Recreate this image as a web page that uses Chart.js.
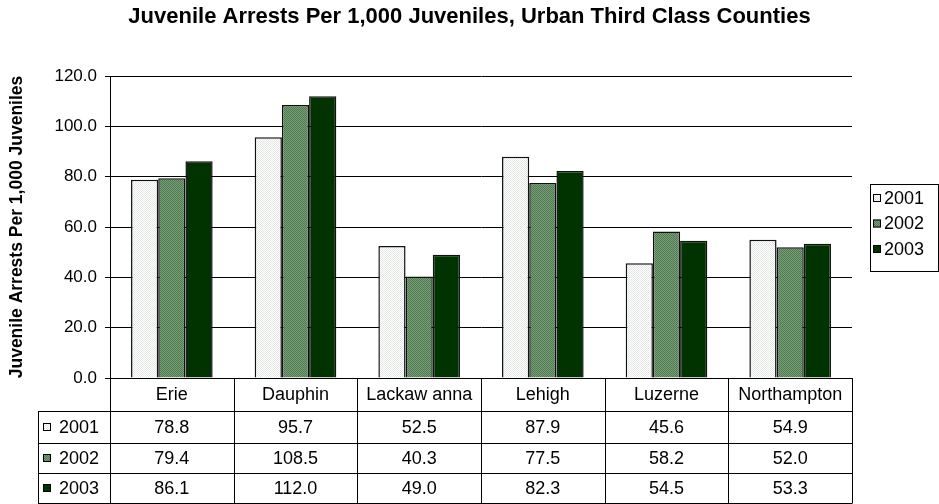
<!DOCTYPE html>
<html>
<head>
<meta charset="utf-8">
<script src="https://cdn.jsdelivr.net/npm/chart.js@4.4.1/dist/chart.umd.min.js"></script>
<style>
  html, body { margin: 0; padding: 0; background: #fff; }
  #wrap { width: 939px; height: 504px; }
</style>
</head>
<body>
<div id="wrap"><canvas id="arrestChart" width="939" height="504"></canvas></div>
<script>
// chart data
const counties = ['Erie', 'Dauphin', 'Lackaw anna', 'Lehigh', 'Luzerne', 'Northampton'];
const years = ['2001', '2002', '2003'];
const rate2001 = [78.8, 95.7, 52.5, 87.9, 45.6, 54.9];
const rate2002 = [79.4, 108.5, 40.3, 77.5, 58.2, 52.0];
const rate2003 = [86.1, 112.0, 49.0, 82.3, 54.5, 53.3];
const yTicks = [0, 20, 40, 60, 80, 100, 120];

const FONT = 'Arial, "Liberation Sans", sans-serif';

// little canvas patterns to mimic the excel fills
function makePattern(bg, dot) {
    const c = document.createElement('canvas');
    c.width = 2; c.height = 2;
    const g = c.getContext('2d');
    g.fillStyle = bg;
    g.fillRect(0, 0, 2, 2);
    g.fillStyle = dot;
    g.fillRect(0, 0, 1, 1);
    g.fillRect(1, 1, 1, 1);
    return g.createPattern(c, 'repeat');
}
const ctx = document.getElementById('arrestChart').getContext('2d');
const fills = [
    makePattern('#ffffff', '#e4e8e4'),
    makePattern('#7a9e7a', '#4f7a4f'),
    '#003300'
];

// draws the data table under the plot and the legend box on the right
const tablePlugin = {
    id: 'dataTable',
    afterDraw(chart) {
        const c = chart.ctx;
        const area = chart.chartArea;
        const x = chart.scales.x;
        const rows = [rate2001, rate2002, rate2003];
        const left = 38;
        const rowY = [area.bottom, 411, 443, 473, 503];
        const colW = (area.right - area.left) / counties.length;

        c.save();
        c.strokeStyle = '#000';
        c.lineWidth = 1;
        c.beginPath();
        // horizontal lines
        c.moveTo(area.left, rowY[0] + 0.5); c.lineTo(area.right, rowY[0] + 0.5);
        for (let i = 1; i < rowY.length; i++) {
            c.moveTo(left, rowY[i] + 0.5); c.lineTo(area.right, rowY[i] + 0.5);
        }
        // vertical lines
        c.moveTo(left + 0.5, rowY[1]); c.lineTo(left + 0.5, rowY[4] + 0.5);
        for (let i = 0; i <= counties.length; i++) {
            const lx = Math.round(area.left + i * colW) + 0.5;
            c.moveTo(lx, rowY[0]); c.lineTo(lx, rowY[4] + 0.5);
        }
        c.stroke();

        c.fillStyle = '#000';
        c.font = '18px ' + FONT;
        c.textAlign = 'center';
        c.textBaseline = 'middle';
        counties.forEach((name, i) => {
            const cx = x.getPixelForValue(i);
            c.fillText(name, cx, (rowY[0] + rowY[1]) / 2 + 1);
            rows.forEach((vals, r) => {
                c.fillText(vals[i].toFixed(1), cx, (rowY[r + 1] + rowY[r + 2]) / 2 + 1);
            });
        });

        // row keys
        c.textAlign = 'left';
        years.forEach((yr, r) => {
            const my = (rowY[r + 1] + rowY[r + 2]) / 2;
            c.fillStyle = fills[r];
            c.fillRect(43, my - 4, 8, 8);
            c.strokeStyle = '#000';
            c.strokeRect(43.5, my - 3.5, 7, 7);
            c.fillStyle = '#000';
            c.fillText(yr, 59, my + 1);
        });

        // legend box
        const lx = 870, ly = 184, lw = 68, lh = 87;
        c.strokeStyle = '#000';
        c.strokeRect(lx + 0.5, ly + 0.5, lw, lh);
        years.forEach((yr, r) => {
            const my = ly + 14 + r * 25.5;
            c.fillStyle = fills[r];
            c.fillRect(873, my - 4, 8, 8);
            c.strokeStyle = '#000';
            c.strokeRect(873.5, my - 3.5, 7, 7);
            c.fillStyle = '#000';
            c.fillText(yr, 884, my + 1);
        });
        c.restore();
    }
};

const arrestChart = new Chart(ctx, {
    type: 'bar',
    data: {
        labels: counties,
        datasets: [
            { label: years[0], data: rate2001, backgroundColor: fills[0] },
            { label: years[1], data: rate2002, backgroundColor: fills[1] },
            { label: years[2], data: rate2003, backgroundColor: fills[2] }
        ].map(d => Object.assign(d, {
            borderColor: '#111',
            borderWidth: 1.5,
            categoryPercentage: 0.66,
            barPercentage: 1.0
        }))
    },
    options: {
        responsive: false,
        animation: false,
        events: [],
        layout: { padding: { left: 0, right: 0, top: 0, bottom: 126 } },
        plugins: {
            legend: { display: false },
            tooltip: { enabled: false },
            title: {
                display: true,
                text: 'Juvenile Arrests Per 1,000 Juveniles, Urban Third Class Counties',
                color: '#000',
                font: { family: FONT, size: 22, weight: 'bold', lineHeight: 1.2 },
                padding: { top: 4, bottom: 45.6 }
            }
        },
        scales: {
            x: {
                display: false
            },
            y: {
                min: 0,
                max: 120,
                afterBuildTicks(scale) {
                    scale.ticks = yTicks.map(v => ({ value: v }));
                },
                afterFit(scale) { scale.width = 110; },
                border: { color: '#000', width: 1 },
                grid: { color: '#000', lineWidth: 1, tickLength: 5, drawTicks: true },
                ticks: {
                    color: '#000',
                    padding: 8,
                    font: { family: FONT, size: 17 },
                    callback: v => v.toFixed(1)
                },
                title: {
                    display: true,
                    text: 'Juvenile Arrests Per 1,000 Juveniles',
                    color: '#000',
                    font: { family: FONT, size: 17.5, weight: 'bold' },
                    padding: { top: 7, bottom: 10 }
                }
            },
            // empty right-hand axis that only reserves room for the legend
            yRight: {
                position: 'right',
                min: 0,
                max: 120,
                grid: { display: false, drawTicks: false },
                border: { display: false },
                ticks: { display: false },
                afterFit(scale) { scale.width = 87; }
            }
        }
    },
    plugins: [tablePlugin]
});
</script>
</body>
</html>
